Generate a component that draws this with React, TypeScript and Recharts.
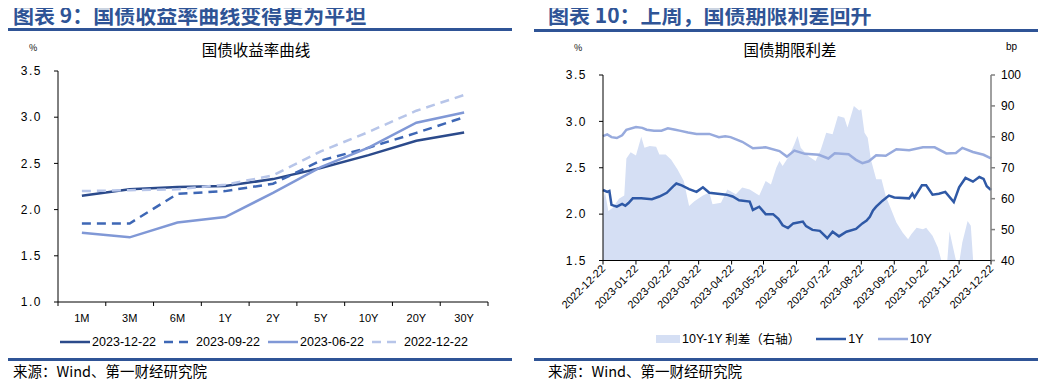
import { LineChart, ComposedChart, Line, Area, XAxis, YAxis } from "recharts";

// ---- 图表9 data ----
const tenors = ["1M", "3M", "6M", "1Y", "2Y", "5Y", "10Y", "20Y", "30Y"];
const curve20231222 = [2.15, 2.22, 2.245, 2.255, 2.33, 2.45, 2.59, 2.745, 2.835];
const curve20230922 = [1.85, 1.85, 2.17, 2.2, 2.28, 2.53, 2.67, 2.83, 3.0];
const curve20230622 = [1.75, 1.7, 1.86, 1.92, 2.18, 2.46, 2.67, 2.94, 3.05];
const curve20221222 = [2.2, 2.21, 2.22, 2.27, 2.37, 2.63, 2.84, 3.07, 3.24];
const curveTicks = [1.0, 1.5, 2.0, 2.5, 3.0, 3.5];

// ---- 图表10 data ----
const yield1Y: [string, number][] = [
  ["2022-12-22", 2.26], ["2022-12-26", 2.24], ["2022-12-28", 2.25], ["2022-12-30", 2.1],
  ["2023-01-04", 2.08], ["2023-01-09", 2.11], ["2023-01-12", 2.09], ["2023-01-15", 2.12],
  ["2023-01-19", 2.17], ["2023-01-27", 2.17], ["2023-02-06", 2.16], ["2023-02-13", 2.19],
  ["2023-02-20", 2.23], ["2023-02-26", 2.3], ["2023-03-01", 2.33], ["2023-03-06", 2.31],
  ["2023-03-13", 2.27], ["2023-03-20", 2.24], ["2023-03-26", 2.29], ["2023-04-01", 2.23],
  ["2023-04-09", 2.22], ["2023-04-17", 2.21], ["2023-04-23", 2.19], ["2023-04-29", 2.15],
  ["2023-05-09", 2.135], ["2023-05-12", 2.045], ["2023-05-18", 2.08], ["2023-05-24", 2.0],
  ["2023-05-31", 2.0], ["2023-06-05", 1.95], ["2023-06-09", 1.88], ["2023-06-14", 1.85],
  ["2023-06-19", 1.9], ["2023-06-28", 1.92], ["2023-07-01", 1.87], ["2023-07-07", 1.83],
  ["2023-07-14", 1.82], ["2023-07-21", 1.74], ["2023-07-26", 1.81], ["2023-08-01", 1.76],
  ["2023-08-08", 1.81], ["2023-08-17", 1.84], ["2023-08-23", 1.9], ["2023-08-27", 1.93],
  ["2023-08-30", 1.97], ["2023-09-02", 2.04], ["2023-09-05", 2.08], ["2023-09-11", 2.145],
  ["2023-09-17", 2.2], ["2023-09-22", 2.18], ["2023-10-06", 2.17], ["2023-10-09", 2.22],
  ["2023-10-11", 2.18], ["2023-10-18", 2.31], ["2023-10-22", 2.31], ["2023-10-28", 2.21],
  ["2023-11-03", 2.22], ["2023-11-09", 2.24], ["2023-11-17", 2.13], ["2023-11-22", 2.29],
  ["2023-11-28", 2.39], ["2023-12-05", 2.35], ["2023-12-11", 2.4], ["2023-12-15", 2.38],
  ["2023-12-18", 2.3], ["2023-12-22", 2.26],
];
const yield10Y: [string, number][] = [
  ["2022-12-22", 2.84], ["2022-12-26", 2.86], ["2022-12-30", 2.83], ["2023-01-04", 2.82],
  ["2023-01-09", 2.85], ["2023-01-13", 2.91], ["2023-01-22", 2.94], ["2023-01-28", 2.93],
  ["2023-02-01", 2.91], ["2023-02-08", 2.9], ["2023-02-15", 2.9], ["2023-02-21", 2.925],
  ["2023-02-28", 2.91], ["2023-03-04", 2.9], ["2023-03-12", 2.88], ["2023-03-20", 2.865],
  ["2023-04-01", 2.865], ["2023-04-10", 2.83], ["2023-04-16", 2.84], ["2023-04-21", 2.83],
  ["2023-05-02", 2.78], ["2023-05-12", 2.71], ["2023-05-24", 2.72], ["2023-06-06", 2.68],
  ["2023-06-13", 2.62], ["2023-06-20", 2.685], ["2023-06-30", 2.65], ["2023-07-13", 2.64],
  ["2023-07-22", 2.6], ["2023-07-28", 2.655], ["2023-08-10", 2.645], ["2023-08-17", 2.585],
  ["2023-08-23", 2.55], ["2023-08-29", 2.57], ["2023-09-05", 2.635], ["2023-09-14", 2.63],
  ["2023-09-24", 2.7], ["2023-10-06", 2.69], ["2023-10-19", 2.72], ["2023-10-30", 2.72],
  ["2023-11-10", 2.655], ["2023-11-19", 2.66], ["2023-11-25", 2.715], ["2023-12-05", 2.67],
  ["2023-12-15", 2.64], ["2023-12-22", 2.6],
];
const spreadBp: [string, number][] = [
  ["2022-12-22", 60], ["2022-12-24", 62], ["2022-12-27", 56], ["2022-12-31", 57],
  ["2023-01-06", 60], ["2023-01-11", 61], ["2023-01-13", 73], ["2023-01-17", 75],
  ["2023-01-22", 74], ["2023-01-27", 80], ["2023-01-30", 76.5], ["2023-02-04", 77],
  ["2023-02-10", 76.8], ["2023-02-13", 74.3], ["2023-02-19", 74.3], ["2023-02-24", 72.7],
  ["2023-03-02", 69.5], ["2023-03-08", 65.7], ["2023-03-13", 57.6], ["2023-03-18", 59.2],
  ["2023-03-26", 61], ["2023-04-01", 62], ["2023-04-04", 58.2], ["2023-04-12", 58.7],
  ["2023-04-18", 63], ["2023-04-26", 61.4], ["2023-05-02", 63.6], ["2023-05-09", 63],
  ["2023-05-18", 61], ["2023-05-24", 65.7], ["2023-05-29", 64.6], ["2023-06-03", 70],
  ["2023-06-06", 72.2], ["2023-06-09", 70.6], ["2023-06-15", 73.8], ["2023-06-20", 77.6],
  ["2023-06-23", 80.3], ["2023-06-26", 76.5], ["2023-07-03", 73.8], ["2023-07-10", 72.2],
  ["2023-07-15", 76], ["2023-07-20", 81.3], ["2023-07-26", 80.8], ["2023-07-31", 86.7],
  ["2023-08-06", 86.2], ["2023-08-09", 83], ["2023-08-15", 90], ["2023-08-20", 88.5],
  ["2023-08-22", 88.9], ["2023-08-25", 81.3], ["2023-08-28", 79.7], ["2023-08-31", 72.7],
  ["2023-09-05", 66.3], ["2023-09-10", 66.3], ["2023-09-14", 60.9], ["2023-09-19", 56.6],
  ["2023-09-24", 52.3], ["2023-09-30", 49], ["2023-10-05", 46.9], ["2023-10-08", 48.5],
  ["2023-10-13", 50.6], ["2023-10-19", 50.1], ["2023-10-22", 50.6], ["2023-10-28", 48],
  ["2023-11-02", 44.2], ["2023-11-05", 40.4], ["2023-11-07", 36], ["2023-11-10", 36],
  ["2023-11-13", 49.5], ["2023-11-16", 44.7], ["2023-11-21", 37], ["2023-11-25", 45.8],
  ["2023-11-30", 52.8], ["2023-12-03", 51.2], ["2023-12-06", 36], ["2023-12-13", 34],
  ["2023-12-22", 34],
];
const monthTicks = [
  "2022-12-22", "2023-01-22", "2023-02-22", "2023-03-22", "2023-04-22", "2023-05-22", "2023-06-22",
  "2023-07-22", "2023-08-22", "2023-09-22", "2023-10-22", "2023-11-22", "2023-12-22",
];
const yieldTicks = [1.5, 2.0, 2.5, 3.0, 3.5];
const bpTicks = [40, 50, 60, 70, 80, 90, 100];

const BLUE = "#2F5496";
const CJK = '"Noto Sans CJK SC", "Liberation Sans", sans-serif';
const NUM = '"Liberation Sans", Arial, sans-serif';

const ts = (d: string) => new Date(d + "T00:00:00Z").getTime();
const dateLabel = new Map(monthTicks.map((d) => [ts(d), d]));

const curveSeries = [
  { key: "c1", label: "2023-12-22", values: curve20231222, color: "#2B4A8B", dash: undefined },
  { key: "c2", label: "2023-09-22", values: curve20230922, color: "#3E67B5", dash: "9 6" },
  { key: "c3", label: "2023-06-22", values: curve20230622, color: "#8098D6", dash: undefined },
  { key: "c4", label: "2022-12-22", values: curve20221222, color: "#B7C5E9", dash: "9 6" },
];
const curveData = tenors.map((_, i) => {
  const row: Record<string, number> = { i };
  curveSeries.forEach((s) => (row[s.key] = s.values[i]));
  return row;
});
const tenorTicks: number[] = [];
for (let i = 0; i <= tenors.length * 2; i++) tenorTicks.push(i / 2 - 0.5);

const toRows = (pts: [string, number][]) => pts.map(([d, v]) => ({ t: ts(d), v }));
const y1Rows = toRows(yield1Y);
const y10Rows = toRows(yield10Y);
const spreadRows = toRows(spreadBp);

function TenorTick(props: any) {
  const { x, y, payload } = props;
  const v = payload.value as number;
  if (Number.isInteger(v)) {
    return (
      <text x={x} y={y + 20} textAnchor="middle" fontSize={11} fill="#000" fontFamily={NUM}>
        {tenors[v]}
      </text>
    );
  }
  return <line x1={x} x2={x} y1={y} y2={y + 4} stroke="#000" />;
}

function DateTick(props: any) {
  const { x, y, payload } = props;
  const tx = x + 3;
  const ty = y + 9;
  return (
    <g>
      <line x1={x} x2={x} y1={y} y2={y + 4} stroke="#000" />
      <text x={tx} y={ty} textAnchor="end" fontSize={11} fill="#000" fontFamily={NUM} transform={`rotate(-45 ${tx} ${ty})`}>
        {dateLabel.get(payload.value)}
      </text>
    </g>
  );
}

const tickStyle = { fontSize: 12, fill: "#000", fontFamily: NUM, letterSpacing: 1.5 };

function LineSample({ color, dash }: { color: string; dash?: string }) {
  return (
    <svg width={30} height={6} style={{ marginRight: 2 }}>
      <line x1={0} x2={30} y1={3} y2={3} stroke={color} strokeWidth={2.5} strokeDasharray={dash} />
    </svg>
  );
}

const abs = (left: number, top: number): React.CSSProperties => ({ position: "absolute", left, top, lineHeight: 1 });

export default function App() {
  return (
    <div style={{ position: "relative", width: 1046, height: 382, margin: "-8px 0 0 -8px", background: "#fff", fontFamily: CJK, overflow: "hidden" }}>
      {/* ---------- left panel ---------- */}
      <div style={{ ...abs(13, 4), fontSize: 21, fontWeight: 700, color: BLUE, whiteSpace: "nowrap" }}>图表 9：国债收益率曲线变得更为平坦</div>
      <div style={{ ...abs(0, 28), width: 512, height: 2.5, background: BLUE }} />
      <div style={{ ...abs(29, 43), fontSize: 9 }}>%</div>
      <div style={{ ...abs(0, 42), width: 512, textAlign: "center", fontSize: 15.5 }}>国债收益率曲线</div>

      <div style={abs(0, 0)}>
        <LineChart width={520} height={330} data={curveData} margin={{ top: 71, right: 32, bottom: 8, left: 18 }}>
          <XAxis
            dataKey="i"
            type="number"
            domain={[-0.5, tenors.length - 0.5]}
            ticks={tenorTicks}
            interval={0}
            tick={<TenorTick />}
            tickLine={false}
            tickSize={0}
            tickMargin={0}
            height={20}
            stroke="#000"
          />
          <YAxis
            domain={[1, 3.5]}
            ticks={curveTicks}
            tickFormatter={(v: number) => v.toFixed(1)}
            width={40}
            tickSize={4}
            tickMargin={12}
            tick={tickStyle}
            stroke="#000"
            interval={0}
          />
          {curveSeries.map((s) => (
            <Line
              key={s.key}
              dataKey={s.key}
              stroke={s.color}
              strokeWidth={2.5}
              strokeDasharray={s.dash}
              dot={false}
              type="linear"
              isAnimationActive={false}
            />
          ))}
        </LineChart>
      </div>

      <div style={{ ...abs(0, 336), width: 520, display: "flex", justifyContent: "center", alignItems: "center", fontFamily: NUM, fontSize: 12.5, gap: 8, paddingLeft: 4 }}>
        {curveSeries.map((s) => (
          <div key={s.key} style={{ display: "flex", alignItems: "center" }}>
            <LineSample color={s.color} dash={s.dash} />
            <span>{s.label}</span>
          </div>
        ))}
      </div>
      <div style={{ ...abs(0, 358), width: 512, height: 2.5, background: BLUE }} />
      <div style={{ ...abs(13, 364), fontSize: 14.5, whiteSpace: "nowrap" }}>来源：Wind、第一财经研究院</div>

      {/* ---------- right panel ---------- */}
      <div style={{ ...abs(548, 4), fontSize: 21, fontWeight: 700, color: BLUE, whiteSpace: "nowrap" }}>图表 10：上周，国债期限利差回升</div>
      <div style={{ ...abs(534, 29), width: 512, height: 2.5, background: BLUE }} />
      <div style={{ ...abs(574, 43), fontSize: 9 }}>%</div>
      <div style={{ ...abs(1006, 42), fontSize: 10, fontFamily: NUM }}>bp</div>
      <div style={{ ...abs(534, 42), width: 512, textAlign: "center", fontSize: 15.5 }}>国债期限利差</div>

      <div style={abs(526, 0)}>
        <ComposedChart width={520} height={330} margin={{ top: 75, right: 15, bottom: 9.5, left: 37 }}>
          <XAxis
            dataKey="t"
            type="number"
            scale="time"
            domain={[ts(monthTicks[0]), ts(monthTicks[monthTicks.length - 1])]}
            ticks={monthTicks.map(ts)}
            interval={0}
            tick={<DateTick />}
            tickLine={false}
            tickSize={0}
            tickMargin={0}
            height={60}
            stroke="#000"
            allowDuplicatedCategory={false}
          />
          <YAxis
            yAxisId="left"
            domain={[1.5, 3.5]}
            ticks={yieldTicks}
            tickFormatter={(v: number) => v.toFixed(1)}
            width={40}
            tickSize={4}
            tickMargin={12}
            tick={tickStyle}
            stroke="#000"
            interval={0}
          />
          <YAxis
            yAxisId="right"
            orientation="right"
            domain={[40, 100]}
            ticks={bpTicks}
            allowDataOverflow
            width={40}
            tickSize={4}
            tickMargin={6}
            tick={{ ...tickStyle, letterSpacing: 0 }}
            stroke="#808080"
            strokeWidth={1.5}
            interval={0}
          />
          <Area
            yAxisId="right"
            data={spreadRows}
            dataKey="v"
            type="linear"
            fill="#D5DFF4"
            fillOpacity={1}
            stroke="none"
            isAnimationActive={false}
          />
          <Line yAxisId="left" data={y10Rows} dataKey="v" type="linear" stroke="#97AADD" strokeWidth={2.5} dot={false} isAnimationActive={false} />
          <Line yAxisId="left" data={y1Rows} dataKey="v" type="linear" stroke="#2F59A6" strokeWidth={2.5} dot={false} isAnimationActive={false} />
        </ComposedChart>
      </div>

      <div style={{ ...abs(656, 333), display: "flex", alignItems: "center", fontSize: 12.5, whiteSpace: "nowrap" }}>
        <div style={{ width: 24, height: 8, background: "#D5DFF4", marginRight: 2 }} />
        <span style={{ fontFamily: NUM }}>10Y-1Y</span>
        <span>&nbsp;利差（右轴）</span>
        <div style={{ width: 16 }} />
        <LineSample color="#2F59A6" />
        <span style={{ fontFamily: NUM }}>1Y</span>
        <div style={{ width: 14 }} />
        <LineSample color="#97AADD" />
        <span style={{ fontFamily: NUM }}>10Y</span>
      </div>
      <div style={{ ...abs(534, 358), width: 512, height: 2.5, background: BLUE }} />
      <div style={{ ...abs(548, 364), fontSize: 14.5, whiteSpace: "nowrap" }}>来源：Wind、第一财经研究院</div>
    </div>
  );
}
